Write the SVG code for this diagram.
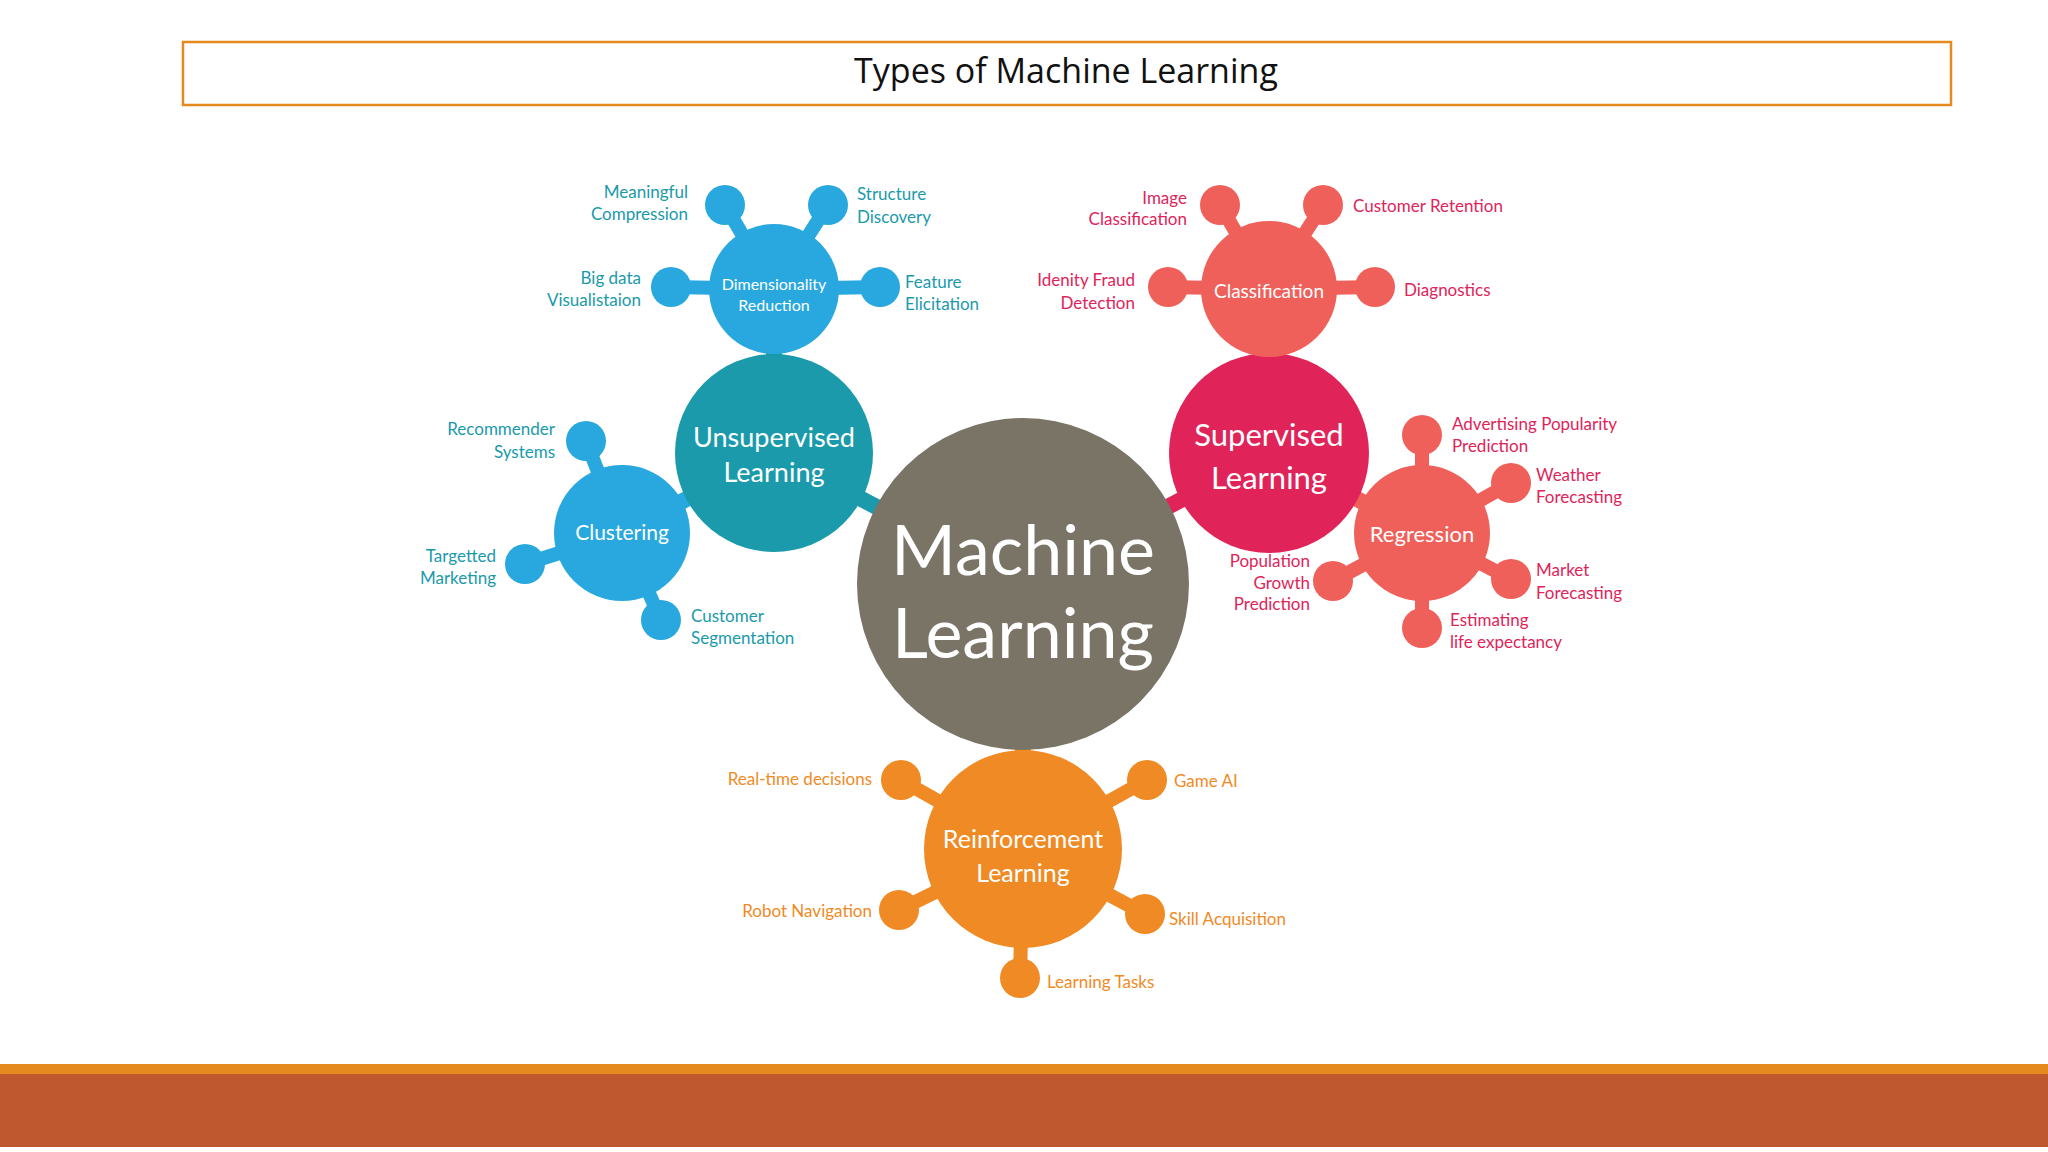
<svg xmlns="http://www.w3.org/2000/svg" width="2048" height="1152" viewBox="0 0 2048 1152">
<style>
text{font-family:Lato,"Open Sans",sans-serif;dominant-baseline:central}
.u{fill:#1a9aaa}.ub{fill:#29a8e0}.s{fill:#e0245a}.sr{fill:#f0605a}.r{fill:#f08a24}
.lu{fill:#1a9aaa;font-size:17px}.ls{fill:#e0245a;font-size:17px}.lr{fill:#f08a24;font-size:17px}
.e{text-anchor:end}.m{text-anchor:middle;fill:#fff}
.cu{stroke:#29a8e0;stroke-width:14}.cs{stroke:#f0605a;stroke-width:14}
</style>
<rect width="2048" height="1152" fill="#fff"/>
<rect x="183" y="42" width="1768" height="63" fill="none" stroke="#e58a1f" stroke-width="2.5"/>
<text x="1066" y="70" text-anchor="middle" font-size="34" style="font-family:'Open Sans',sans-serif" fill="#111">Types of Machine Learning</text>
<rect x="0" y="1064" width="2048" height="10" fill="#e58a1f"/>
<rect x="0" y="1074" width="2048" height="73" fill="#bf582e"/>
<g id="connectors">
<line x1="1023" y1="584" x2="774" y2="453" stroke="#1a9aaa" stroke-width="16"/>
<line x1="1023" y1="584" x2="1269" y2="453" stroke="#e0245a" stroke-width="16"/>
<line x1="1023" y1="584" x2="1023" y2="849" stroke="#f08a24" stroke-width="16"/>
<line x1="774" y1="453" x2="774" y2="289" stroke="#1a9aaa" stroke-width="16"/>
<line x1="774" y1="453" x2="622" y2="533" stroke="#29a8e0" stroke-width="16"/>
<line x1="1269" y1="453" x2="1269" y2="289" stroke="#f0605a" stroke-width="16"/>
<line x1="1269" y1="453" x2="1422" y2="533" stroke="#f0605a" stroke-width="16"/>
<g class="cu"><line x1="774" y1="289" x2="725" y2="205"/><line x1="774" y1="289" x2="828" y2="205"/><line x1="774" y1="289" x2="671" y2="287"/><line x1="774" y1="289" x2="880" y2="287"/>
<line x1="622" y1="533" x2="586" y2="441"/><line x1="622" y1="533" x2="525" y2="564"/><line x1="622" y1="533" x2="661" y2="620"/></g>
<g class="cs"><line x1="1269" y1="289" x2="1220" y2="205"/><line x1="1269" y1="289" x2="1323" y2="205"/><line x1="1269" y1="289" x2="1168" y2="287"/><line x1="1269" y1="289" x2="1375" y2="287"/>
<line x1="1422" y1="533" x2="1422" y2="435"/><line x1="1422" y1="533" x2="1511" y2="483"/><line x1="1422" y1="533" x2="1511" y2="579"/><line x1="1422" y1="533" x2="1422" y2="628"/><line x1="1422" y1="533" x2="1333" y2="581"/></g>
<g stroke="#f08a24" stroke-width="14"><line x1="1023" y1="849" x2="901" y2="780"/><line x1="1023" y1="849" x2="1147" y2="780"/><line x1="1023" y1="849" x2="899" y2="910"/><line x1="1023" y1="849" x2="1145" y2="914"/><line x1="1023" y1="849" x2="1020" y2="978"/></g>
</g>
<g id="ml"><circle cx="1023" cy="584" r="166" fill="#7a7467"/><text class="m" x="1023" y="548" font-size="70">Machine</text><text class="m" x="1023" y="631" font-size="70">Learning</text></g>
<g id="unsup"><circle cx="774" cy="453" r="99" class="u"/><text class="m" x="774" y="436" font-size="27">Unsupervised</text><text class="m" x="774" y="471" font-size="27">Learning</text></g>
<g id="dim"><circle cx="774" cy="289" r="65" class="ub"/><text class="m" x="774" y="283" font-size="16">Dimensionality</text><text class="m" x="774" y="304" font-size="16">Reduction</text></g>
<g id="clust"><circle cx="622" cy="533" r="68" class="ub"/><text class="m" x="622" y="531" font-size="21">Clustering</text></g>
<g id="sup"><circle cx="1269" cy="453" r="100" class="s"/><text class="m" x="1269" y="434" font-size="31">Supervised</text><text class="m" x="1269" y="477" font-size="31">Learning</text></g>
<g id="class"><circle cx="1269" cy="289" r="68" class="sr"/><text class="m" x="1269" y="290" font-size="19">Classification</text></g>
<g id="reg"><circle cx="1422" cy="533" r="68" class="sr"/><text class="m" x="1422" y="533" font-size="22">Regression</text></g>
<g id="reinf"><circle cx="1023" cy="849" r="99" class="r"/><text class="m" x="1023" y="838" font-size="25">Reinforcement</text><text class="m" x="1023" y="872" font-size="25">Learning</text></g>
<g id="leaves-unsup" class="ub">
<circle cx="725" cy="205" r="20"/><circle cx="828" cy="205" r="20"/><circle cx="671" cy="287" r="20"/><circle cx="880" cy="287" r="20"/>
<circle cx="586" cy="441" r="20"/><circle cx="525" cy="564" r="20"/><circle cx="661" cy="620" r="20"/></g>
<g id="leaves-sup" class="sr">
<circle cx="1220" cy="205" r="20"/><circle cx="1323" cy="205" r="20"/><circle cx="1168" cy="287" r="20"/><circle cx="1375" cy="287" r="20"/>
<circle cx="1422" cy="435" r="20"/><circle cx="1511" cy="483" r="20"/><circle cx="1511" cy="579" r="20"/><circle cx="1422" cy="628" r="20"/><circle cx="1333" cy="581" r="20"/></g>
<g id="leaves-reinf" class="r">
<circle cx="901" cy="780" r="20"/><circle cx="1147" cy="780" r="20"/><circle cx="899" cy="910" r="20"/><circle cx="1145" cy="914" r="20"/><circle cx="1020" cy="978" r="20"/></g>
<g id="labels">
<text class="lu e" x="688" y="191">Meaningful</text><text class="lu e" x="688" y="213">Compression</text>
<text class="lu" x="857" y="193">Structure</text><text class="lu" x="857" y="216">Discovery</text>
<text class="lu e" x="641" y="277">Big data</text><text class="lu e" x="641" y="299">Visualistaion</text>
<text class="lu" x="905" y="281">Feature</text><text class="lu" x="905" y="303">Elicitation</text>
<text class="lu e" x="555" y="428">Recommender</text><text class="lu e" x="555" y="451">Systems</text>
<text class="lu e" x="496" y="555">Targetted</text><text class="lu e" x="496" y="577">Marketing</text>
<text class="lu" x="691" y="615">Customer</text><text class="lu" x="691" y="637">Segmentation</text>
<text class="ls e" x="1187" y="197">Image</text><text class="ls e" x="1187" y="218">Classification</text>
<text class="ls" x="1353" y="205">Customer Retention</text>
<text class="ls e" x="1135" y="279">Idenity Fraud</text><text class="ls e" x="1135" y="302">Detection</text>
<text class="ls" x="1404" y="289">Diagnostics</text>
<text class="ls" x="1452" y="423">Advertising Popularity</text><text class="ls" x="1452" y="445">Prediction</text>
<text class="ls" x="1536" y="474">Weather</text><text class="ls" x="1536" y="496">Forecasting</text>
<text class="ls" x="1536" y="569">Market</text><text class="ls" x="1536" y="592">Forecasting</text>
<text class="ls" x="1450" y="619">Estimating</text><text class="ls" x="1450" y="641">life expectancy</text>
<text class="ls e" x="1310" y="560">Population</text><text class="ls e" x="1310" y="582">Growth</text><text class="ls e" x="1310" y="603">Prediction</text>
<text class="lr e" x="872" y="778">Real-time decisions</text>
<text class="lr" x="1174" y="780">Game AI</text>
<text class="lr e" x="872" y="910">Robot Navigation</text>
<text class="lr" x="1169" y="918">Skill Acquisition</text>
<text class="lr" x="1047" y="981">Learning Tasks</text>
</g>
</svg>
